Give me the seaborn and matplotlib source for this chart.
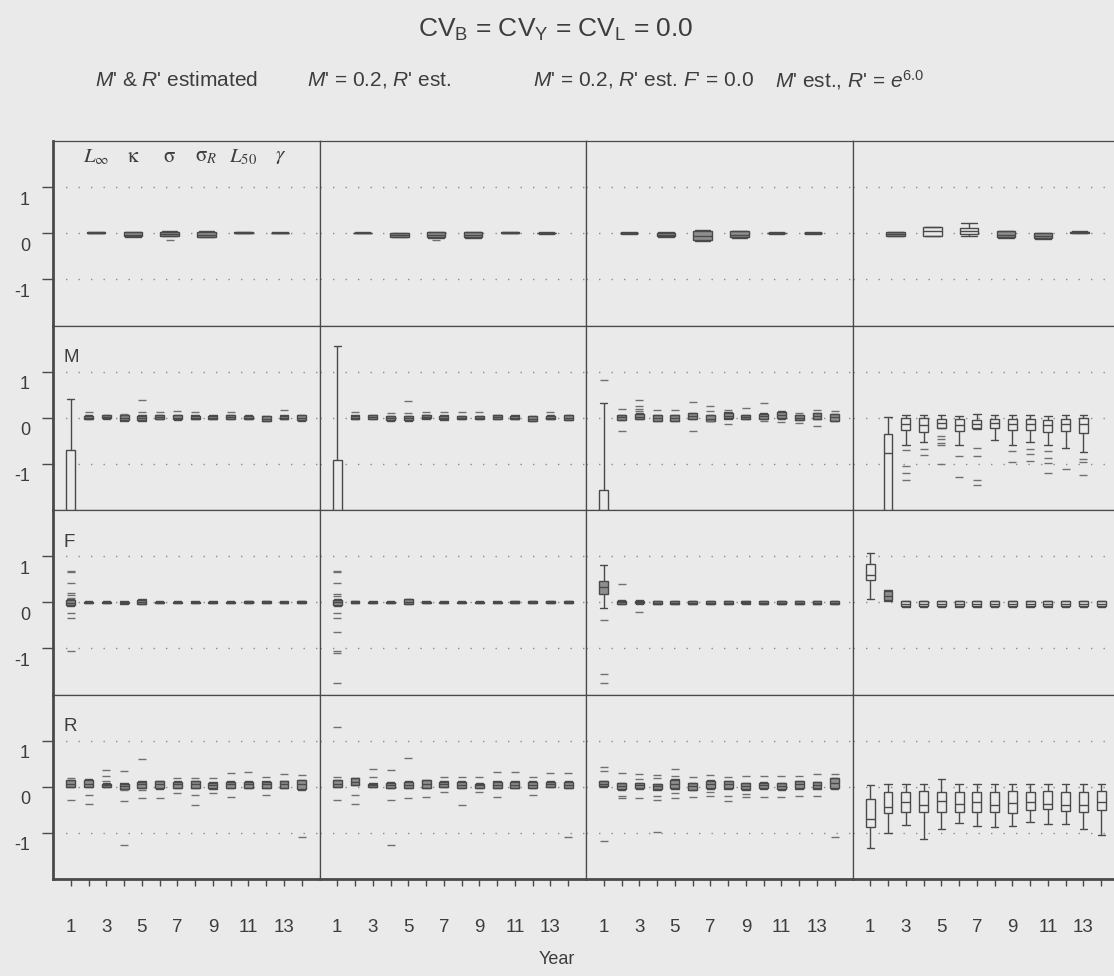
import numpy as np
import pandas as pd
import matplotlib
matplotlib.use("Agg")
import matplotlib.pyplot as plt
import seaborn as sns

# ---------------------------------------------------------------- data
MAIN_TITLE = r"CV$_\mathrm{B}$ = CV$_\mathrm{Y}$ = CV$_\mathrm{L}$ = 0.0"
COLUMN_TITLES = [
    r"$\mathit{M}$' & $\mathit{R}$' estimated",
    r"$\mathit{M}$' = 0.2, $\mathit{R}$' est.",
    r"$\mathit{M}$' = 0.2, $\mathit{R}$' est. $\mathit{F}$' = 0.0",
    r"$\mathit{M}$' est., $\mathit{R}$' = $\mathit{e}^{6.0}$",
]
ROW_LABELS = ["", "M", "F", "R"]
PARAMS = ["Linf", "kappa", "sigma", "sigmaR", "L50", "gamma"]
PARAM_LABELS = [r"$L_{\infty}$", r"$\mathrm{\kappa}$", r"$\mathrm{\sigma}$",
                r"$\mathrm{\sigma}_R$", r"$L_{50}$", r"$\gamma$"]
YEARS = list(range(1, 15))
YEAR_TICK_LABELS = ["1", "", "3", "", "5", "", "7", "", "9", "", "11", "", "13", ""]
Y_TICKS = [-1, 0, 1]
Y_TICK_LABELS = ["-1", "0", "1"]
X_LABEL = "Year"

# each box: (lower whisker, Q1, median, Q3, upper whisker); None = no box
# ---- row 1: growth / selectivity parameters
par_c1 = [(0.00, 0.01, 0.015, 0.02, 0.03), (-0.09, -0.07, -0.03, 0.02, 0.03),
          (-0.07, -0.06, -0.01, 0.03, 0.04), (-0.09, -0.08, -0.03, 0.03, 0.04),
          (0.00, 0.01, 0.015, 0.02, 0.03), (0.00, 0.005, 0.01, 0.015, 0.02)]
par_c1_out = [[], [], [-0.14], [], [], []]
par_c2 = [(0.00, 0.005, 0.01, 0.015, 0.02), (-0.09, -0.08, -0.04, 0.00, 0.01),
          (-0.10, -0.09, -0.03, 0.02, 0.03), (-0.10, -0.08, -0.03, 0.02, 0.03),
          (0.00, 0.01, 0.015, 0.02, 0.03), (-0.01, 0.00, 0.005, 0.01, 0.02)]
par_c2_out = [[], [], [-0.15], [], [], []]
par_c3 = [(-0.01, 0.00, 0.005, 0.01, 0.02), (-0.08, -0.07, -0.03, 0.01, 0.02),
          (-0.17, -0.15, -0.05, 0.05, 0.06), (-0.10, -0.09, -0.03, 0.04, 0.05),
          (-0.01, 0.00, 0.005, 0.01, 0.02), (-0.01, 0.00, 0.005, 0.01, 0.02)]
par_c3_out = [[], [], [], [], [], []]
par_c4 = [(-0.06, -0.05, -0.02, 0.02, 0.03), (-0.06, -0.05, 0.04, 0.13, 0.14),
          (-0.05, -0.01, 0.04, 0.11, 0.22), (-0.10, -0.09, -0.03, 0.04, 0.05),
          (-0.12, -0.11, -0.06, 0.00, 0.01), (0.00, 0.01, 0.02, 0.03, 0.04)]
par_c4_out = [[], [], [], [], [], []]
par_open = [[], [], [], ["kappa", "sigma"]]

# ---- row 2: M
M_c1 = [(-4.0, -3.0, -2.6, -0.69, 0.40), (-0.03, -0.02, 0.00, 0.04, 0.06),
        (-0.02, -0.01, 0.01, 0.05, 0.06), (-0.06, -0.05, -0.01, 0.05, 0.07),
        (-0.06, -0.04, -0.01, 0.03, 0.05), (-0.03, -0.02, 0.01, 0.05, 0.06),
        (-0.04, -0.03, 0.00, 0.05, 0.06), (-0.03, -0.02, 0.00, 0.04, 0.05),
        (-0.03, -0.02, 0.00, 0.04, 0.05), (-0.03, -0.02, 0.02, 0.06, 0.07),
        (-0.03, -0.02, 0.00, 0.04, 0.05), (-0.08, -0.06, -0.02, 0.03, 0.04),
        (-0.03, -0.02, 0.00, 0.04, 0.05), (-0.06, -0.05, 0.00, 0.05, 0.06)]
M_c1_out = [[], [0.13], [], [0.09], [0.39, 0.12], [0.13], [0.15], [0.13], [],
            [0.12], [], [], [0.17], []]
M_c2 = [(-4.0, -3.0, -2.6, -0.92, 1.56), (-0.03, -0.02, 0.00, 0.04, 0.05),
        (-0.03, -0.02, 0.01, 0.05, 0.06), (-0.06, -0.05, -0.01, 0.03, 0.04),
        (-0.06, -0.05, -0.01, 0.03, 0.04), (-0.02, -0.01, 0.01, 0.05, 0.06),
        (-0.04, -0.03, 0.00, 0.04, 0.05), (-0.03, -0.02, 0.00, 0.03, 0.04),
        (-0.03, -0.02, 0.00, 0.03, 0.04), (-0.03, -0.02, 0.01, 0.05, 0.06),
        (-0.03, -0.02, 0.00, 0.04, 0.05), (-0.07, -0.06, -0.02, 0.03, 0.04),
        (-0.03, -0.02, 0.00, 0.04, 0.05), (-0.05, -0.04, 0.00, 0.05, 0.06)]
M_c2_out = [[], [0.12], [], [0.10], [0.37, 0.11], [0.12], [0.12], [0.13], [0.12],
            [], [], [], [0.13], []]
M_c3 = [(-4.0, -3.0, -2.6, -1.56, 0.32), (-0.05, -0.04, 0.01, 0.06, 0.07),
        (-0.03, -0.02, 0.02, 0.09, 0.10), (-0.07, -0.06, -0.01, 0.06, 0.07),
        (-0.07, -0.06, -0.01, 0.06, 0.07), (-0.03, -0.02, 0.03, 0.10, 0.11),
        (-0.08, -0.07, -0.02, 0.06, 0.07), (-0.02, -0.01, 0.04, 0.11, 0.12),
        (-0.03, -0.02, 0.01, 0.05, 0.06), (-0.03, -0.02, 0.03, 0.09, 0.10),
        (-0.02, -0.01, 0.06, 0.13, 0.14), (-0.05, -0.04, 0.00, 0.06, 0.07),
        (-0.03, -0.02, 0.03, 0.10, 0.11), (-0.07, -0.06, 0.01, 0.08, 0.09)]
M_c3_out = [[0.81], [0.20, -0.29], [0.39, 0.25, 0.20, 0.14], [0.16], [0.17],
            [0.34, -0.29], [0.25, 0.14, -0.08], [0.17, -0.14], [0.22],
            [0.32, -0.07], [-0.09], [0.11, -0.12], [0.17, -0.17], [0.14]]
M_c4 = [None, (-4.0, -3.0, -0.77, -0.36, 0.02),
        (-0.59, -0.27, -0.14, -0.01, 0.07), (-0.52, -0.30, -0.16, -0.01, 0.06),
        (-0.23, -0.22, -0.12, -0.03, 0.06), (-0.60, -0.29, -0.16, -0.03, 0.04),
        (-0.24, -0.23, -0.14, -0.05, 0.08), (-0.48, -0.23, -0.12, -0.03, 0.06),
        (-0.59, -0.27, -0.14, -0.03, 0.07), (-0.52, -0.27, -0.14, -0.03, 0.07),
        (-0.58, -0.30, -0.16, -0.05, 0.04), (-0.66, -0.29, -0.13, -0.03, 0.07),
        (-0.75, -0.34, -0.14, -0.01, 0.07), None]
M_c4_out = [[], [], [-0.70, -1.04, -1.19, -1.36], [-0.68, -0.81],
            [-0.40, -0.45, -0.55, -0.60, -1.00], [-0.82, -1.29],
            [-0.66, -0.83, -1.36, -1.45], [], [-0.73, -0.95], [-0.68, -0.79, -0.93],
            [-0.72, -0.88, -0.99, -1.20], [-1.11], [-0.90, -0.95, -1.24], []]
M_open = [[1], [1], [1], [2, 3, 4, 5, 6, 7, 8, 9, 10, 11, 12, 13]]

# ---- row 3: F
F_c1 = [(-0.08, -0.06, -0.01, 0.04, 0.06), (-0.02, -0.015, 0.00, 0.015, 0.02),
        (-0.02, -0.015, 0.00, 0.015, 0.02), (-0.03, -0.02, 0.00, 0.01, 0.02),
        (-0.04, -0.03, 0.00, 0.05, 0.06), (-0.02, -0.015, 0.00, 0.015, 0.02),
        (-0.02, -0.015, 0.00, 0.015, 0.02), (-0.02, -0.015, 0.00, 0.01, 0.02),
        (-0.02, -0.015, 0.00, 0.01, 0.02), (-0.02, -0.015, 0.00, 0.015, 0.02),
        (-0.02, -0.01, 0.00, 0.02, 0.03), (-0.02, -0.01, 0.00, 0.02, 0.03),
        (-0.02, -0.015, 0.00, 0.015, 0.02), (-0.02, -0.01, 0.00, 0.02, 0.03)]
F_c1_out = [[0.68, 0.65, 0.41, 0.20, 0.16, 0.09, -0.24, -0.34, -1.06],
            [], [], [], [], [], [], [], [], [], [], [], [], []]
F_c2 = [(-0.08, -0.06, 0.00, 0.05, 0.06), (-0.02, -0.01, 0.00, 0.02, 0.03),
        (-0.02, -0.015, 0.00, 0.015, 0.02), (-0.02, -0.015, 0.00, 0.015, 0.02),
        (-0.04, -0.03, 0.00, 0.06, 0.07), (-0.02, -0.015, 0.00, 0.015, 0.02),
        (-0.02, -0.015, 0.00, 0.015, 0.02), (-0.02, -0.015, 0.00, 0.015, 0.02),
        (-0.02, -0.015, 0.00, 0.015, 0.02), (-0.02, -0.015, 0.00, 0.015, 0.02),
        (-0.02, -0.01, 0.00, 0.02, 0.03), (-0.02, -0.01, 0.00, 0.02, 0.03),
        (-0.02, -0.01, 0.00, 0.02, 0.03), (-0.02, -0.01, 0.00, 0.02, 0.03)]
F_c2_out = [[0.68, 0.65, 0.41, 0.18, 0.14, -0.24, -0.34, -0.65, -1.06, -1.10, -1.76],
            [], [], [], [], [], [], [], [], [], [], [], [], []]
F_c3 = [(-0.12, 0.18, 0.32, 0.47, 0.81), (-0.04, -0.03, 0.00, 0.03, 0.04),
        (-0.03, -0.02, 0.00, 0.03, 0.04), (-0.04, -0.03, -0.01, 0.02, 0.03),
        (-0.04, -0.03, -0.01, 0.02, 0.03), (-0.04, -0.03, -0.01, 0.02, 0.03),
        (-0.04, -0.03, -0.01, 0.02, 0.03), (-0.04, -0.03, -0.01, 0.02, 0.03),
        (-0.03, -0.02, 0.00, 0.02, 0.03), (-0.04, -0.03, -0.01, 0.02, 0.03),
        (-0.04, -0.03, -0.01, 0.02, 0.03), (-0.04, -0.03, -0.01, 0.02, 0.03),
        (-0.04, -0.03, -0.01, 0.02, 0.03), (-0.04, -0.03, -0.01, 0.02, 0.03)]
F_c3_out = [[-0.38, -1.55, -1.74], [0.40], [-0.22], [], [], [], [], [], [], [], [],
            [], [], []]
F_c4 = [(0.07, 0.49, 0.59, 0.83, 1.06), (0.02, 0.05, 0.14, 0.24, 0.27),
        (-0.10, -0.09, -0.04, 0.02, 0.03), (-0.10, -0.09, -0.04, 0.02, 0.03),
        (-0.10, -0.09, -0.04, 0.02, 0.03), (-0.10, -0.09, -0.04, 0.02, 0.03),
        (-0.10, -0.09, -0.04, 0.02, 0.03), (-0.10, -0.09, -0.04, 0.02, 0.03),
        (-0.10, -0.09, -0.04, 0.02, 0.03), (-0.10, -0.09, -0.04, 0.02, 0.03),
        (-0.10, -0.09, -0.04, 0.02, 0.03), (-0.10, -0.09, -0.04, 0.02, 0.03),
        (-0.10, -0.09, -0.04, 0.02, 0.03), (-0.10, -0.09, -0.04, 0.02, 0.03)]
F_c4_out = [[], [], [], [], [], [], [], [], [], [], [], [], [], []]
F_open = [[], [], [], [1, 3, 4, 5, 6, 7, 8, 9, 10, 11, 12, 13, 14]]

# ---- row 4: R
R_c1 = [(-0.01, 0.00, 0.05, 0.14, 0.15), (-0.01, 0.00, 0.06, 0.14, 0.16),
        (-0.01, 0.00, 0.03, 0.07, 0.08), (-0.05, -0.04, 0.02, 0.07, 0.08),
        (-0.03, -0.02, 0.05, 0.11, 0.12), (-0.04, -0.03, 0.05, 0.12, 0.13),
        (-0.03, -0.02, 0.05, 0.11, 0.13), (-0.03, -0.02, 0.05, 0.12, 0.13),
        (-0.04, -0.03, 0.03, 0.09, 0.10), (-0.03, -0.02, 0.05, 0.11, 0.12),
        (-0.03, -0.02, 0.05, 0.11, 0.12), (-0.03, -0.02, 0.05, 0.11, 0.12),
        (-0.03, -0.02, 0.05, 0.12, 0.13), (-0.06, -0.05, 0.05, 0.14, 0.15)]
R_c1_out = [[0.19, -0.29], [-0.18, -0.37], [0.36, 0.24, 0.12],
            [0.35, -0.07, -0.31, -1.27], [0.61, -0.07, -0.25], [-0.24],
            [0.19, -0.13], [0.19, -0.18, -0.40], [0.19, -0.13], [0.29, -0.23],
            [0.31], [0.22, -0.18], [0.27], [0.25, -1.08]]
R_c2 = [(-0.01, 0.00, 0.06, 0.14, 0.15), (0.03, 0.04, 0.10, 0.18, 0.19),
        (-0.01, 0.00, 0.03, 0.07, 0.08), (-0.03, -0.02, 0.03, 0.09, 0.10),
        (-0.03, -0.02, 0.04, 0.11, 0.12), (-0.03, -0.02, 0.06, 0.14, 0.15),
        (-0.01, 0.00, 0.05, 0.11, 0.12), (-0.03, -0.02, 0.04, 0.11, 0.12),
        (-0.03, -0.02, 0.03, 0.07, 0.08), (-0.03, -0.02, 0.04, 0.11, 0.12),
        (-0.03, -0.02, 0.04, 0.11, 0.12), (-0.03, -0.02, 0.04, 0.11, 0.12),
        (-0.01, 0.00, 0.05, 0.11, 0.12), (-0.03, -0.02, 0.04, 0.11, 0.12)]
R_c2_out = [[1.29, 0.22, -0.29], [-0.17, -0.37], [0.38, 0.22],
            [0.36, -0.29, -1.26], [0.63, -0.24], [-0.22], [0.22, -0.12],
            [0.22, -0.40], [0.22, -0.11], [0.31, -0.22], [0.31], [0.22, -0.17],
            [0.29], [0.29, -1.10]]
R_c3 = [(0.00, 0.01, 0.06, 0.12, 0.13), (-0.06, -0.05, 0.02, 0.08, 0.09),
        (-0.04, -0.03, 0.03, 0.08, 0.09), (-0.06, -0.05, 0.01, 0.06, 0.07),
        (-0.04, -0.03, 0.06, 0.15, 0.16), (-0.07, -0.06, 0.01, 0.08, 0.09),
        (-0.04, -0.03, 0.05, 0.13, 0.14), (-0.04, -0.03, 0.05, 0.12, 0.13),
        (-0.06, -0.05, 0.02, 0.08, 0.09), (-0.04, -0.03, 0.04, 0.09, 0.10),
        (-0.06, -0.05, 0.02, 0.08, 0.09), (-0.04, -0.03, 0.05, 0.12, 0.13),
        (-0.04, -0.03, 0.04, 0.10, 0.11), (-0.04, -0.03, 0.08, 0.19, 0.20)]
R_c3_out = [[0.42, 0.35, -1.17], [0.29, -0.19, -0.24], [0.28, 0.17, -0.24],
            [0.26, 0.19, -0.21, -0.28, -0.98], [0.39, 0.24, -0.14, -0.24],
            [0.22, -0.22], [0.26, -0.12, -0.19], [0.22, -0.19, -0.31],
            [0.24, -0.15, -0.22], [0.24, -0.22], [0.24, -0.22], [0.24, -0.21],
            [0.27, -0.21], [0.28, -1.09]]
R_c4 = [(-1.33, -0.88, -0.69, -0.26, 0.04), (-1.01, -0.56, -0.44, -0.11, 0.05),
        (-0.83, -0.54, -0.33, -0.12, 0.05), (-1.14, -0.55, -0.40, -0.09, 0.05),
        (-0.91, -0.55, -0.31, -0.11, 0.17), (-0.79, -0.55, -0.37, -0.12, 0.05),
        (-0.85, -0.54, -0.33, -0.11, 0.06), (-0.87, -0.55, -0.40, -0.11, 0.07),
        (-0.85, -0.56, -0.35, -0.09, 0.05), (-0.76, -0.51, -0.32, -0.11, 0.07),
        (-0.81, -0.49, -0.38, -0.10, 0.06), (-0.80, -0.53, -0.40, -0.11, 0.07),
        (-0.91, -0.54, -0.40, -0.11, 0.05), (-1.04, -0.50, -0.32, -0.09, 0.06)]
R_c4_out = [[], [], [], [], [], [], [], [], [], [], [], [], [], []]
R_open = [[], [], [], YEARS]

# ---------------------------------------------------------------- style
BG = "#eaeaea"
INK = "#3d3d3d"
LINE = "#4a4a4a"
DENSE = "#8f8f8f"
OUT = "#707070"
GRID = "#8c8c8c"

sns.set_theme(style="white", rc={"axes.facecolor": BG, "figure.facecolor": BG})
plt.rcParams["font.family"] = ["Liberation Sans", "DejaVu Sans"]
plt.rcParams["mathtext.fontset"] = "custom"
plt.rcParams["mathtext.rm"] = "Liberation Sans"
plt.rcParams["mathtext.it"] = "Liberation Sans:italic"
plt.rcParams["mathtext.bf"] = "Liberation Sans:bold"
plt.rcParams["text.color"] = INK

W, H = 1114, 976
fig, axes = plt.subplots(
    4, 4, figsize=(W / 100, H / 100), dpi=100,
    gridspec_kw=dict(left=53 / W, right=1119 / W, top=1 - 141 / H,
                     bottom=1 - 879 / H, wspace=0, hspace=0))

panels = {
    0: ([par_c1, par_c2, par_c3, par_c4],
        [par_c1_out, par_c2_out, par_c3_out, par_c4_out], par_open, PARAMS),
    1: ([M_c1, M_c2, M_c3, M_c4], [M_c1_out, M_c2_out, M_c3_out, M_c4_out],
        M_open, YEARS),
    2: ([F_c1, F_c2, F_c3, F_c4], [F_c1_out, F_c2_out, F_c3_out, F_c4_out],
        F_open, YEARS),
    3: ([R_c1, R_c2, R_c3, R_c4], [R_c1_out, R_c2_out, R_c3_out, R_c4_out],
        R_open, YEARS),
}

for r in range(4):
    boxes_all, outs_all, open_all, cats = panels[r]
    for c in range(4):
        ax = axes[r, c]
        boxes, outs, open_set = boxes_all[c], outs_all[c], open_all[c]
        rows = []
        for cat, st in zip(cats, boxes):
            if st is None:
                continue
            shade = "open" if cat in open_set else "dense"
            for v in st:
                rows.append({"cat": cat, "value": v, "shade": shade})
        bdf = pd.DataFrame(rows)
        for v in Y_TICKS:
            ax.axhline(v, color=GRID, lw=1.0, ls=(0, (1, 8)), zorder=0.5)
        sns.boxplot(data=bdf, x="cat", y="value", hue="shade",
                    hue_order=["open", "dense"],
                    palette={"open": BG, "dense": DENSE}, order=cats,
                    dodge=False, width=0.5, whis=(0, 100), linecolor=LINE,
                    linewidth=1.0, fliersize=0, saturation=1, legend=False,
                    capwidths=0.42, ax=ax)
        orows = [{"cat": cat, "value": v} for cat, vs in zip(cats, outs) for v in vs]
        if orows:
            odf = pd.DataFrame(orows)
            sns.stripplot(data=odf, x="cat", y="value", order=cats, jitter=False,
                          marker="_", size=6, linewidth=1.0, color=OUT,
                          edgecolor=OUT, ax=ax, zorder=3)
        ax.set_ylim(-2, 2)
        if r == 0:
            ax.set_xlim(-1.17, 6.07)
        else:
            ax.set_xlim(-1, 14)
        ax.set_xlabel("")
        ax.set_ylabel("")
        for s in ax.spines.values():
            s.set_visible(True)
            s.set_color(LINE)
            s.set_linewidth(0.9)
        ax.tick_params(which="both", left=False, bottom=False, top=False,
                       right=False, labelleft=False, labelbottom=False)
        if c == 0:
            ax.spines["left"].set_linewidth(2.0)
            ax.set_yticks(Y_TICKS)
            ax.tick_params(axis="y", left=True, length=8, width=1.0,
                           color=LINE, direction="out", labelleft=False)
            for v, lab in zip(Y_TICKS, Y_TICK_LABELS):
                ax.annotate(lab, xy=(0, v), xycoords=ax.get_yaxis_transform(),
                            xytext=(-23, -13), textcoords="offset pixels",
                            ha="right", va="center", fontsize=13, color=INK,
                            annotation_clip=False)
        else:
            ax.set_yticks([])
        if r == 3:
            ax.spines["bottom"].set_linewidth(2.0)
            ax.set_xticks(range(len(YEARS)))
            ax.set_xticklabels(YEAR_TICK_LABELS)
            ax.tick_params(axis="x", bottom=True, labelbottom=True, length=5,
                           width=1.0, color=LINE, direction="out", pad=24,
                           labelsize=13.5, labelcolor=INK)
        else:
            ax.set_xticks([])
        if c == 0 and ROW_LABELS[r]:
            ax.text(0.04, 0.825, ROW_LABELS[r], transform=ax.transAxes,
                    fontsize=13.5, color=INK, ha="left", va="center")

# parameter labels in the first panel
ax0 = axes[0, 0]
for i, lab in enumerate(PARAM_LABELS):
    ax0.text(i, 0.914, lab, transform=ax0.get_xaxis_transform(), ha="center",
             va="center", fontsize=15, color=INK, math_fontfamily="stix")

fig.text(0.499, 1 - 30 / H, MAIN_TITLE, ha="center", va="center", fontsize=19,
         color=INK)
for x0, t in zip([95, 307, 533, 775], COLUMN_TITLES):
    fig.text(x0 / W, 1 - 80 / H, t, ha="left", va="center", fontsize=15,
             color=INK)
fig.text(557 / W, 1 - 960 / H, X_LABEL, ha="center", va="center", fontsize=13,
         color=INK)

fig.savefig("out.png", dpi=100, facecolor=BG)
